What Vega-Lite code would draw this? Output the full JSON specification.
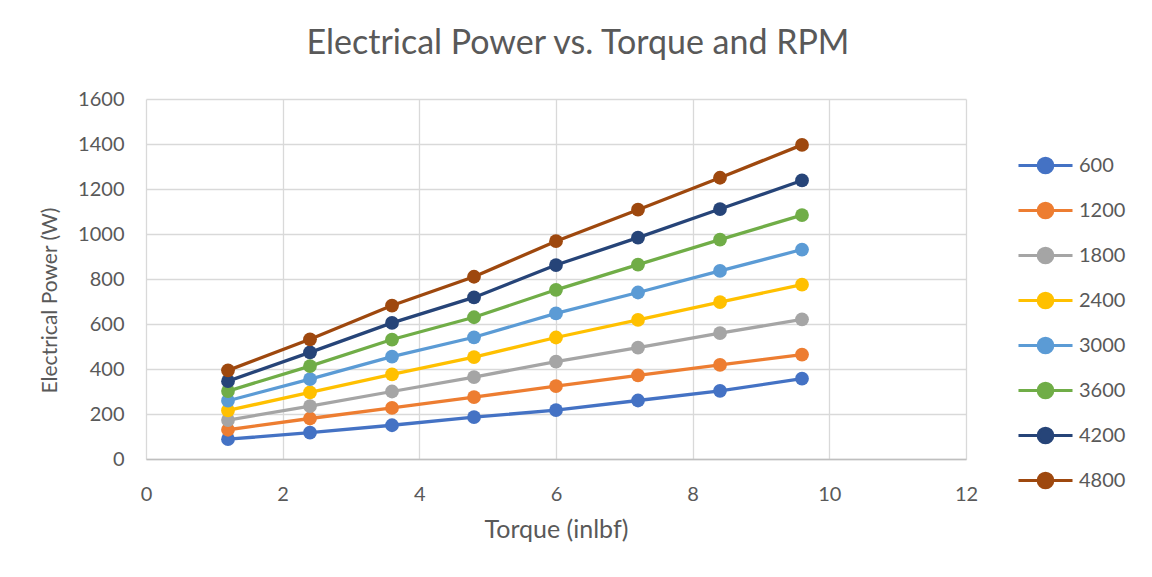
{
  "$schema": "https://vega.github.io/schema/vega-lite/v6.json",
  "width": 820,
  "height": 360,
  "autosize": {"type": "none"},
  "padding": {"left": 146, "top": 99, "right": 186, "bottom": 118},
  "background": "white",
  "title": {
    "text": "Electrical Power vs. Torque and RPM",
    "font": "Lato",
    "fontSize": 34,
    "fontWeight": "normal",
    "color": "#595959",
    "anchor": "middle",
    "dx": 22,
    "offset": 28
  },
  "config": {
    "view": {"stroke": null},
    "axis": {
      "labelFont": "Lato",
      "titleFont": "Lato",
      "labelColor": "#595959",
      "titleColor": "#595959",
      "labelFontSize": 20,
      "titleFontSize": 21,
      "titleFontWeight": "normal",
      "grid": true,
      "gridColor": "#D9D9D9",
      "gridWidth": 1.3,
      "tickSize": 0
    },
    "legend": {
      "labelFont": "Lato",
      "labelFontSize": 20,
      "labelColor": "#595959"
    }
  },
  "data": {
    "values": [
      {"rpm": "600", "torque": 1.2, "power": 88},
      {"rpm": "600", "torque": 2.4, "power": 117},
      {"rpm": "600", "torque": 3.6, "power": 150},
      {"rpm": "600", "torque": 4.8, "power": 186},
      {"rpm": "600", "torque": 6.0, "power": 217},
      {"rpm": "600", "torque": 7.2, "power": 260},
      {"rpm": "600", "torque": 8.4, "power": 303},
      {"rpm": "600", "torque": 9.6, "power": 357},
      {"rpm": "1200", "torque": 1.2, "power": 130},
      {"rpm": "1200", "torque": 2.4, "power": 180},
      {"rpm": "1200", "torque": 3.6, "power": 227},
      {"rpm": "1200", "torque": 4.8, "power": 275},
      {"rpm": "1200", "torque": 6.0, "power": 324},
      {"rpm": "1200", "torque": 7.2, "power": 372},
      {"rpm": "1200", "torque": 8.4, "power": 418},
      {"rpm": "1200", "torque": 9.6, "power": 464},
      {"rpm": "1800", "torque": 1.2, "power": 173},
      {"rpm": "1800", "torque": 2.4, "power": 235},
      {"rpm": "1800", "torque": 3.6, "power": 300},
      {"rpm": "1800", "torque": 4.8, "power": 364},
      {"rpm": "1800", "torque": 6.0, "power": 433},
      {"rpm": "1800", "torque": 7.2, "power": 495},
      {"rpm": "1800", "torque": 8.4, "power": 559},
      {"rpm": "1800", "torque": 9.6, "power": 621},
      {"rpm": "2400", "torque": 1.2, "power": 216},
      {"rpm": "2400", "torque": 2.4, "power": 296},
      {"rpm": "2400", "torque": 3.6, "power": 376},
      {"rpm": "2400", "torque": 4.8, "power": 453},
      {"rpm": "2400", "torque": 6.0, "power": 540},
      {"rpm": "2400", "torque": 7.2, "power": 618},
      {"rpm": "2400", "torque": 8.4, "power": 697},
      {"rpm": "2400", "torque": 9.6, "power": 775},
      {"rpm": "3000", "torque": 1.2, "power": 259},
      {"rpm": "3000", "torque": 2.4, "power": 355},
      {"rpm": "3000", "torque": 3.6, "power": 455},
      {"rpm": "3000", "torque": 4.8, "power": 541},
      {"rpm": "3000", "torque": 6.0, "power": 647},
      {"rpm": "3000", "torque": 7.2, "power": 740},
      {"rpm": "3000", "torque": 8.4, "power": 836},
      {"rpm": "3000", "torque": 9.6, "power": 931},
      {"rpm": "3600", "torque": 1.2, "power": 302},
      {"rpm": "3600", "torque": 2.4, "power": 413},
      {"rpm": "3600", "torque": 3.6, "power": 531},
      {"rpm": "3600", "torque": 4.8, "power": 630},
      {"rpm": "3600", "torque": 6.0, "power": 752},
      {"rpm": "3600", "torque": 7.2, "power": 864},
      {"rpm": "3600", "torque": 8.4, "power": 975},
      {"rpm": "3600", "torque": 9.6, "power": 1084},
      {"rpm": "4200", "torque": 1.2, "power": 346},
      {"rpm": "4200", "torque": 2.4, "power": 474},
      {"rpm": "4200", "torque": 3.6, "power": 605},
      {"rpm": "4200", "torque": 4.8, "power": 718},
      {"rpm": "4200", "torque": 6.0, "power": 862},
      {"rpm": "4200", "torque": 7.2, "power": 984},
      {"rpm": "4200", "torque": 8.4, "power": 1111},
      {"rpm": "4200", "torque": 9.6, "power": 1238},
      {"rpm": "4800", "torque": 1.2, "power": 394},
      {"rpm": "4800", "torque": 2.4, "power": 532},
      {"rpm": "4800", "torque": 3.6, "power": 682},
      {"rpm": "4800", "torque": 4.8, "power": 810},
      {"rpm": "4800", "torque": 6.0, "power": 968},
      {"rpm": "4800", "torque": 7.2, "power": 1108},
      {"rpm": "4800", "torque": 8.4, "power": 1250},
      {"rpm": "4800", "torque": 9.6, "power": 1396}
    ]
  },
  "mark": {
    "type": "line",
    "strokeWidth": 3.3,
    "point": {"filled": true, "size": 190, "opacity": 1}
  },
  "encoding": {
    "x": {
      "field": "torque",
      "type": "quantitative",
      "scale": {"domain": [0, 12], "nice": false},
      "axis": {
        "title": "Torque (inlbf)",
        "values": [0, 2, 4, 6, 8, 10, 12],
        "format": "d",
        "labelPadding": 25,
        "titleFontSize": 25,
        "titleBaseline": "alphabetic",
        "titleY": 78,
        "labelFlush": false,
        "domain": true,
        "domainColor": "#BFBFBF",
        "domainWidth": 1.5
      }
    },
    "y": {
      "field": "power",
      "type": "quantitative",
      "scale": {"domain": [0, 1600], "nice": false},
      "axis": {
        "title": "Electrical Power (W)",
        "values": [0, 200, 400, 600, 800, 1000, 1200, 1400, 1600],
        "format": "d",
        "labelPadding": 22,
        "titleAngle": -90,
        "titleAlign": "center",
        "titleBaseline": "middle",
        "titleX": -96,
        "titleY": 201,
        "labelFlush": false,
        "domain": false
      }
    },
    "color": {
      "field": "rpm",
      "type": "nominal",
      "sort": ["600", "1200", "1800", "2400", "3000", "3600", "4200", "4800"],
      "scale": {
        "domain": ["600", "1200", "1800", "2400", "3000", "3600", "4200", "4800"],
        "range": ["#4472C4", "#ED7D31", "#A5A5A5", "#FFC000", "#5B9BD5", "#70AD47", "#264478", "#9E480E"]
      },
      "legend": {
        "title": null,
        "orient": "none",
        "legendX": 887,
        "legendY": 54,
        "symbolType": "M-2.5,0H2.5M-0.68,0A0.68,0.68 0 1,0 0.68,0A0.68,0.68 0 1,0 -0.68,0Z",
        "symbolSize": 467,
        "symbolStrokeWidth": 3,
        "labelOffset": 21,
        "rowPadding": 18,
        "encode": {
          "symbols": {
            "update": {
              "fill": {"scale": "color", "field": "value"},
              "stroke": {"scale": "color", "field": "value"},
              "opacity": {"value": 1}
            }
          }
        }
      }
    },
    "order": {"field": "torque"}
  }
}
